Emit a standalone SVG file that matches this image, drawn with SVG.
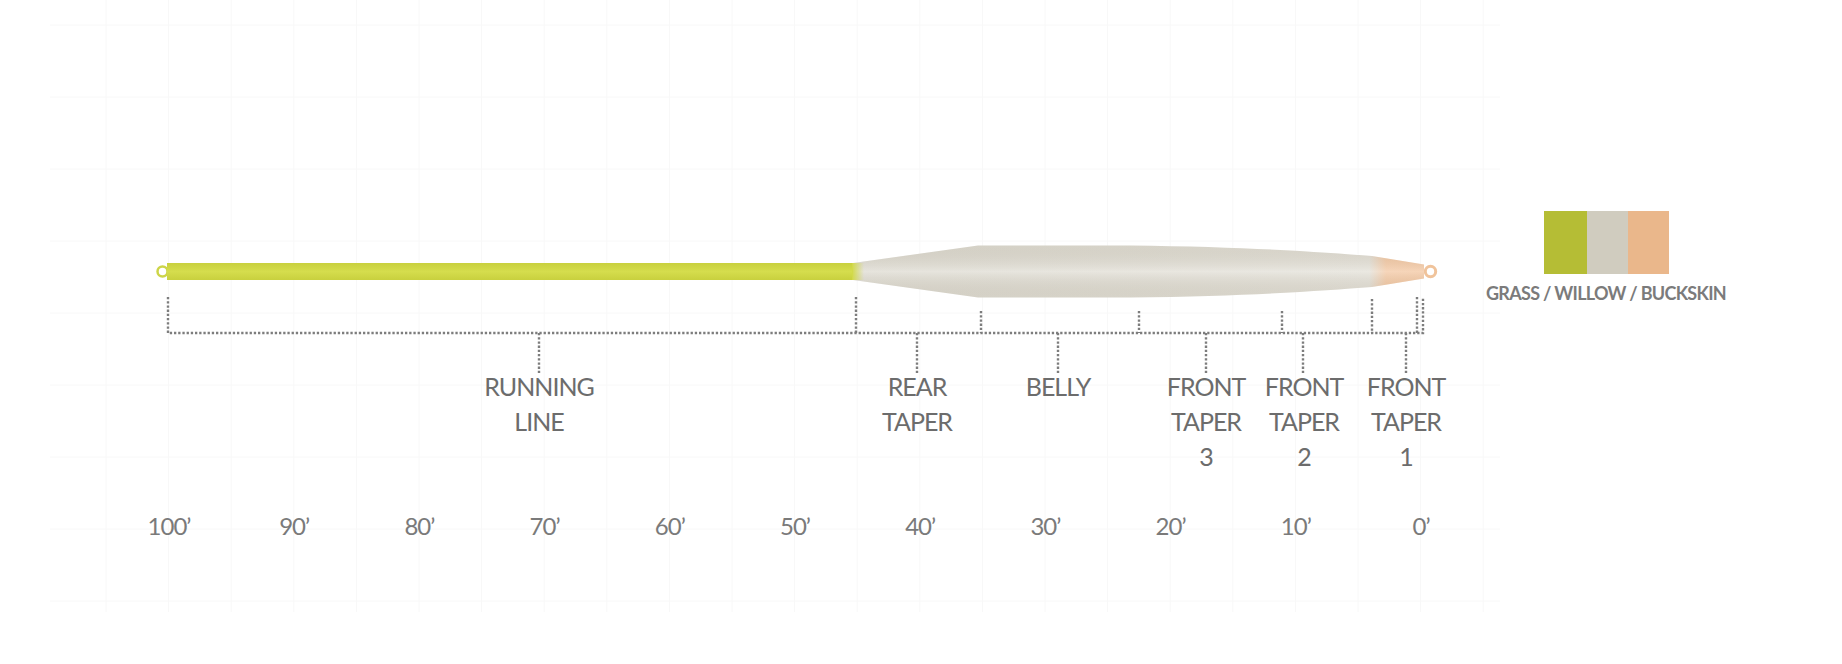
<svg xmlns="http://www.w3.org/2000/svg" width="1842" height="664" viewBox="0 0 1842 664">
<defs>
<style>
.grid line{stroke:#f8f8f8;stroke-width:1}
.dot{stroke:#7d7d7d;stroke-width:2.4;stroke-dasharray:2.3 1.9;fill:none}
.lbl{font-family:Lato,"Liberation Sans",sans-serif;font-size:25px;fill:#6c6c6c;text-anchor:middle;letter-spacing:-1px}
.tick{font-family:Lato,"Liberation Sans",sans-serif;font-size:24px;fill:#7a7a7a;text-anchor:middle;letter-spacing:-1px}
.leg{font-family:Lato,"Liberation Sans",sans-serif;font-size:18px;font-weight:bold;fill:#7b7b7b;text-anchor:middle;letter-spacing:-0.7px}
</style>
<linearGradient id="green" x1="0" y1="0" x2="0" y2="1">
<stop offset="0" stop-color="#c8d03e"/>
<stop offset="0.5" stop-color="#d5dd4d"/>
<stop offset="1" stop-color="#c8d03e"/>
</linearGradient>
<linearGradient id="greenFade" x1="0" y1="0" x2="1" y2="0">
<stop offset="0" stop-color="#d2da4a" stop-opacity="1"/>
<stop offset="1" stop-color="#d2da4a" stop-opacity="0"/>
</linearGradient>
<linearGradient id="hcol" gradientUnits="userSpaceOnUse" x1="850" y1="0" x2="1440" y2="0">
<stop offset="0" stop-color="#dcd9cf"/>
<stop offset="0.88" stop-color="#e2dfd6"/>
<stop offset="0.9085" stop-color="#f3c6a0"/>
<stop offset="1" stop-color="#f2c29a"/>
</linearGradient>
<linearGradient id="shade" gradientUnits="userSpaceOnUse" x1="0" y1="245" x2="0" y2="298">
<stop offset="0" stop-color="#7a705a" stop-opacity="0.08"/>
<stop offset="0.5" stop-color="#ffffff" stop-opacity="0.28"/>
<stop offset="1" stop-color="#7a705a" stop-opacity="0.08"/>
</linearGradient>
</defs>
<rect width="1842" height="664" fill="#ffffff"/>
<g class="grid">
<line x1="106" y1="0" x2="106" y2="612"/><line x1="168.6" y1="0" x2="168.6" y2="612"/><line x1="231.2" y1="0" x2="231.2" y2="612"/><line x1="293.8" y1="0" x2="293.8" y2="612"/><line x1="356.4" y1="0" x2="356.4" y2="612"/><line x1="419" y1="0" x2="419" y2="612"/><line x1="481.6" y1="0" x2="481.6" y2="612"/><line x1="544.2" y1="0" x2="544.2" y2="612"/><line x1="606.8" y1="0" x2="606.8" y2="612"/><line x1="669.4" y1="0" x2="669.4" y2="612"/><line x1="732" y1="0" x2="732" y2="612"/><line x1="794.6" y1="0" x2="794.6" y2="612"/><line x1="857.2" y1="0" x2="857.2" y2="612"/><line x1="919.8" y1="0" x2="919.8" y2="612"/><line x1="982.4" y1="0" x2="982.4" y2="612"/><line x1="1045" y1="0" x2="1045" y2="612"/><line x1="1107.6" y1="0" x2="1107.6" y2="612"/><line x1="1170.2" y1="0" x2="1170.2" y2="612"/><line x1="1232.8" y1="0" x2="1232.8" y2="612"/><line x1="1295.4" y1="0" x2="1295.4" y2="612"/><line x1="1358" y1="0" x2="1358" y2="612"/><line x1="1420.6" y1="0" x2="1420.6" y2="612"/><line x1="1483.2" y1="0" x2="1483.2" y2="612"/>
<line x1="50" y1="25" x2="1500" y2="25"/><line x1="50" y1="97" x2="1500" y2="97"/><line x1="50" y1="169" x2="1500" y2="169"/><line x1="50" y1="241" x2="1500" y2="241"/><line x1="50" y1="313" x2="1500" y2="313"/><line x1="50" y1="385" x2="1500" y2="385"/><line x1="50" y1="457" x2="1500" y2="457"/><line x1="50" y1="529" x2="1500" y2="529"/><line x1="50" y1="601" x2="1500" y2="601"/>
</g>
<g id="flyline">
<circle cx="162.5" cy="271.5" r="5" fill="#ffffff" stroke="#cdd548" stroke-width="2.5"/>
<circle cx="1430.5" cy="271.5" r="5.2" fill="#ffffff" stroke="#f0c39b" stroke-width="3"/>
<path d="M853,263 L978,245.5 L1130,245.5 C1250,247 1320,252 1372,256 L1424,264.5 L1424,278.5 L1372,287 C1320,291 1250,296 1130,297.5 L978,297.5 L853,280 Z" fill="url(#hcol)"/>
<path d="M853,263 L978,245.5 L1130,245.5 C1250,247 1320,252 1372,256 L1424,264.5 L1424,278.5 L1372,287 C1320,291 1250,296 1130,297.5 L978,297.5 L853,280 Z" fill="url(#shade)"/>
<rect x="167" y="263" width="686" height="17" fill="url(#green)"/>
<rect x="852" y="263" width="12" height="17" fill="url(#greenFade)"/>
</g>
<g id="connectors">
<path class="dot" d="M168,297 V333 H1423 V297 M1417,297 V333"/>
<path class="dot" d="M856,297 V333 M981,311 V333 M1139,311 V333 M1282,311 V333 M1372,299 V333"/>
<path class="dot" d="M539,333 V373 M917,333 V373 M1058,333 V373 M1206,333 V373 M1303,333 V373 M1406,333 V373"/>
</g>
<g id="running-line"><text class="lbl" x="539" y="396">RUNNING</text><text class="lbl" x="539" y="431">LINE</text></g>
<g id="rear-taper"><text class="lbl" x="917" y="396">REAR</text><text class="lbl" x="917" y="431">TAPER</text></g>
<g id="belly"><text class="lbl" x="1058" y="396">BELLY</text></g>
<g id="front-taper-3"><text class="lbl" x="1206" y="396">FRONT</text><text class="lbl" x="1206" y="431">TAPER</text><text class="lbl" x="1206" y="466">3</text></g>
<g id="front-taper-2"><text class="lbl" x="1304" y="396">FRONT</text><text class="lbl" x="1304" y="431">TAPER</text><text class="lbl" x="1304" y="466">2</text></g>
<g id="front-taper-1"><text class="lbl" x="1406" y="396">FRONT</text><text class="lbl" x="1406" y="431">TAPER</text><text class="lbl" x="1406" y="466">1</text></g>
<g id="scale">
<text class="tick" x="169" y="535">100’</text>
<text class="tick" x="294.2" y="535">90’</text>
<text class="tick" x="419.4" y="535">80’</text>
<text class="tick" x="544.6" y="535">70’</text>
<text class="tick" x="669.8" y="535">60’</text>
<text class="tick" x="795" y="535">50’</text>
<text class="tick" x="920.2" y="535">40’</text>
<text class="tick" x="1045.4" y="535">30’</text>
<text class="tick" x="1170.6" y="535">20’</text>
<text class="tick" x="1295.8" y="535">10’</text>
<text class="tick" x="1421" y="535">0’</text>
</g>
<g id="legend">
<rect x="1544" y="211" width="43" height="63" fill="#b5bd35"/>
<rect x="1587" y="211" width="41" height="63" fill="#d0ccbf"/>
<rect x="1628" y="211" width="41" height="63" fill="#eab78b"/>
<text class="leg" x="1606" y="300">GRASS / WILLOW / BUCKSKIN</text>
</g>
</svg>
